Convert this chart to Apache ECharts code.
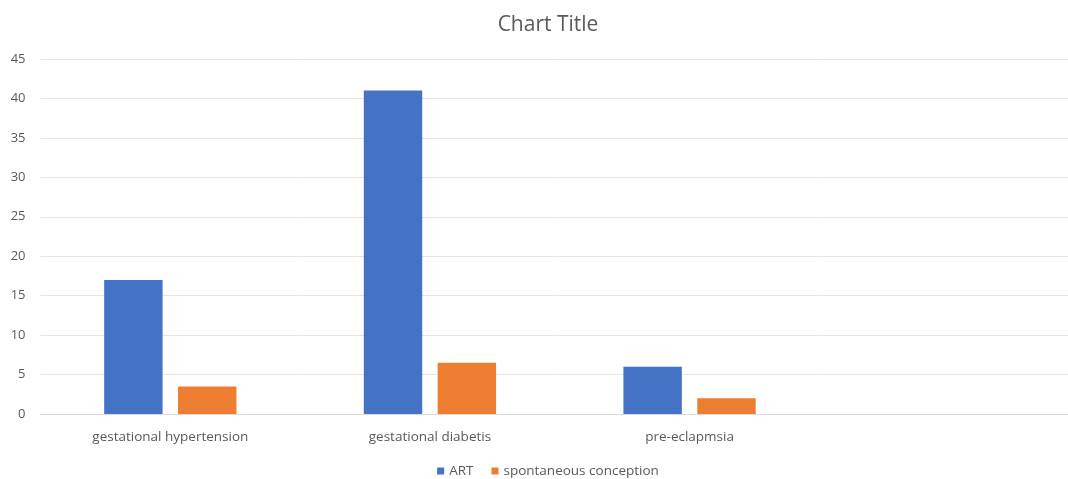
<!DOCTYPE html>
<html>
<head>
<meta charset="utf-8">
<script src="https://cdn.jsdelivr.net/npm/echarts@6/dist/echarts.min.js"></script>
<style>
  html, body { margin: 0; padding: 0; background: #fff; overflow: hidden; }
  #chart { width: 1096px; height: 479px; }
</style>
</head>
<body>
<div id="chart"></div>
<script>
var categories = ['gestational hypertension', 'gestational diabetis', 'pre-eclapmsia', '']
var artValues = [17, 41, 6, null]
var spontaneousValues = [3.5, 6.5, 2, null]
var yTicks = { min: 0, max: 45, interval: 5 }

var chart = echarts.init(document.getElementById('chart'))
var option = {
    animation: false,
    textStyle: { fontFamily: 'Open Sans' },
    title: {
        text: 'Chart Title',
        left: 'center',
        top: 10,
        textStyle: { color: '#595959', fontSize: 21, fontWeight: 'normal', fontFamily: 'Open Sans' }
    },
    legend: {
        top: 459,
        left: 'center',
        itemWidth: 7,
        itemHeight: 7,
        itemGap: 18,
        icon: 'rect',
        textStyle: { color: '#595959', fontSize: 13.5 }
    },
    grid: { left: 40.5, right: 17, top: 59, height: 355, containLabel: false, outerBoundsMode: 'none' },
    xAxis: {
        type: 'category',
        data: categories,
        axisLine: { lineStyle: { color: '#d9d9d9' } },
        axisTick: { show: false },
        axisLabel: { color: '#595959', fontSize: 13.5, margin: 16, interval: 0 }
    },
    yAxis: {
        type: 'value',
        min: yTicks.min,
        max: yTicks.max,
        interval: yTicks.interval,
        axisLine: { show: false },
        axisTick: { show: false },
        axisLabel: { color: '#595959', fontSize: 13, margin: 15 },
        splitLine: { lineStyle: { color: '#e4e4e4' } }
    },
    series: [
        {
            name: 'ART',
            type: 'bar',
            data: artValues,
            barWidth: 58.4,
            barGap: '26.5%',
            itemStyle: { color: '#4472c4' }
        },
        {
            name: 'spontaneous conception',
            type: 'bar',
            data: spontaneousValues,
            barWidth: 58.4,
            itemStyle: { color: '#ed7d31' }
        }
    ]
}
option && chart.setOption(option)
</script>
</body>
</html>
